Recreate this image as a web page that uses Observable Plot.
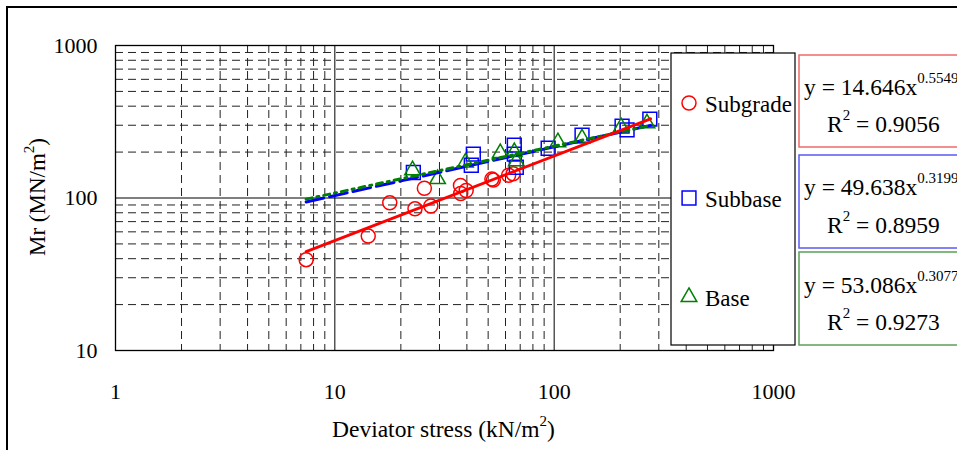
<!DOCTYPE html>
<html><head><meta charset="utf-8">
<script src="https://cdn.jsdelivr.net/npm/d3@7"></script>
<script src="https://cdn.jsdelivr.net/npm/@observablehq/plot@0.6"></script>
<style>
body{margin:0;background:#fff;}
#chart{position:relative;width:957px;height:450px;overflow:hidden;}
</style>
</head><body><div id="chart"></div>
<script>
// ---- data ----
const seriesNames = ["Subgrade", "Subbase", "Base"];
const subgradeX = [7.4, 14.2, 17.8, 23.2, 25.6, 27.4, 37.4, 37.5, 39.7, 52, 52.8, 62, 65];
const subgradeY = [39.4, 56.3, 93, 84.9, 115.8, 88.6, 121, 107, 112, 133, 131, 141, 144];
const subbaseX = [22.8, 41.9, 42.8, 65.8, 65.8, 67.2, 93.9, 134, 204, 215, 273];
const subbaseY = [147, 164, 194, 222, 194, 159, 212, 258, 296, 280, 329];
const baseX = [22.6, 29.4, 39.4, 56.8, 65.8, 67.2, 104, 134, 202, 265];
const baseY = [152, 133, 171, 197, 200, 174, 232, 246, 291, 309];
// trend line end points (power fits, straight on log-log axes)
const fitX = [7.4, 275];
const subgradeFitY = [44.5, 330.7];
const subbaseFitY = [94.2, 299.3];
const baseFitY = [98.3, 298.9];
const equations = [
  {coef: "y = 14.646x", exp: "0.5549", r2: "0.9056"},
  {coef: "y = 49.638x", exp: "0.3199", r2: "0.8959"},
  {coef: "y = 53.086x", exp: "0.3077", r2: "0.9273"}
];
const xTicks = [1, 10, 100, 1000];
const yTicks = [10, 100, 1000];
const xMajorGrid = [10, 100];
const yMajorGrid = [100];
const xMinorGrid = [2,3,4,5,6,7,8,9,20,30,40,50,60,70,80,90,200,300,400,500,600,700,800,900];
const yMinorGrid = [20,30,40,50,60,70,80,90,200,300,400,500,600,700,800,900];
const xTitle = "Deviator stress (kN/m";
const yTitle = "Mr (MN/m";

const zip = (xs, ys) => xs.map((x, i) => ({x, y: ys[i]}));
const subgrade = zip(subgradeX, subgradeY);
const subbase = zip(subbaseX, subbaseY);
const base = zip(baseX, baseY);
const subgradeFit = zip(fitX, subgradeFitY);
const subbaseFit = zip(fitX, subbaseFitY);
const baseFit = zip(fitX, baseFitY);

const FONT = "'Liberation Serif','Times New Roman',serif";
const RED = "#ff0000", BLUE = "#0000ff", GREEN = "#008000";
const dash = "8,5";

const plot = Plot.plot({
  width: 957, height: 450,
  marginLeft: 115, marginRight: 184, marginTop: 45, marginBottom: 100,
  style: {fontFamily: FONT, fontSize: "22px", color: "#000", background: "transparent"},
  x: {type: "log", domain: [1, 1000], ticks: xTicks, tickFormat: d => String(d), tickSize: 0, tickPadding: 33, label: null},
  y: {type: "log", domain: [10, 1000], ticks: yTicks, tickFormat: d => String(d), tickSize: 0, tickPadding: 18, label: null},
  marks: [
    Plot.ruleX(xMinorGrid, {stroke: "#222", strokeWidth: 1, strokeDasharray: dash}),
    Plot.ruleY(yMinorGrid, {stroke: "#222", strokeWidth: 1, strokeDasharray: dash}),
    Plot.ruleX(xMajorGrid, {stroke: "#000", strokeWidth: 1}),
    Plot.ruleY(yMajorGrid, {stroke: "#000", strokeWidth: 1}),
    Plot.frame({stroke: "#000", strokeWidth: 1.3}),
    Plot.dot(subgrade, {x: "x", y: "y", r: 7, symbol: "circle", stroke: RED, strokeWidth: 1.5, fill: "none"}),
    Plot.dot(subbase, {x: "x", y: "y", r: 7.8, symbol: "square", stroke: BLUE, strokeWidth: 1.5, fill: "none"}),
    Plot.dot(base, {x: "x", y: "y", r: 5.8, symbol: "triangle", stroke: GREEN, strokeWidth: 1.5, fill: "none"}),
    Plot.line(subbaseFit, {x: "x", y: "y", stroke: BLUE, strokeWidth: 3, strokeDasharray: "18,6"}),
    Plot.line(baseFit, {x: "x", y: "y", stroke: GREEN, strokeWidth: 3, strokeDasharray: "6,5,2,5"}),
    Plot.line(subgradeFit, {x: "x", y: "y", stroke: RED, strokeWidth: 3})
  ]
});
document.getElementById("chart").appendChild(plot);

const svg = d3.select(plot);
const txt = (sel, size = 23) => sel.style("font-family", FONT).style("font-size", size + "px").attr("fill", "#000").attr("text-anchor", "start");

// outer border of the figure
svg.append("rect").attr("x", 7).attr("y", 7).attr("width", 1000).attr("height", 500)
  .attr("fill", "none").attr("stroke", "#000").attr("stroke-width", 2);

// axis titles
const xt = txt(svg.append("text").attr("x", 332).attr("y", 437), 23.5);
xt.append("tspan").text(xTitle);
xt.append("tspan").attr("dy", -11).style("font-size", "15px").text("2");
xt.append("tspan").attr("dy", 11).text(")");

const yt = txt(svg.append("text").attr("transform", "translate(45,197) rotate(-90)"), 23).attr("text-anchor", "middle");
yt.append("tspan").text(yTitle);
yt.append("tspan").attr("dy", -11).style("font-size", "15px").text("2");
yt.append("tspan").attr("dy", 11).text(")");

// legend box
svg.append("rect").attr("x", 671).attr("y", 53).attr("width", 124).attr("height", 292)
  .attr("fill", "#fff").attr("stroke", "#000").attr("stroke-width", 1.2);
const legendRows = [
  {name: seriesNames[0], cy: 103, base: 112, sym: d3.symbolCircle, size: Math.PI * 49, color: RED},
  {name: seriesNames[1], cy: 198, base: 207, sym: d3.symbolSquare, size: Math.PI * 7.8 * 7.8, color: BLUE},
  {name: seriesNames[2], cy: 297, base: 306, sym: d3.symbolTriangle, size: Math.PI * 5.8 * 5.8, color: GREEN}
];
legendRows.forEach(r => {
  svg.append("path").attr("d", d3.symbol(r.sym, r.size)()).attr("transform", `translate(689,${r.cy})`)
    .attr("fill", "none").attr("stroke", r.color).attr("stroke-width", 1.5);
  txt(svg.append("text").attr("x", 705).attr("y", r.base), 23).text(r.name);
});

// equation boxes
const eqBoxes = [
  {y: 55, h: 92, color: "#f06a6a", b1: 95, b2: 132},
  {y: 155, h: 93, color: "#5a5af5", b1: 195, b2: 233},
  {y: 252, h: 93, color: "#5aa05a", b1: 293, b2: 330}
];
eqBoxes.forEach((b, i) => {
  svg.append("rect").attr("x", 799).attr("y", b.y).attr("width", 200).attr("height", b.h)
    .attr("fill", "#fff").attr("stroke", b.color).attr("stroke-width", 1.5);
  const e = equations[i];
  const t1 = txt(svg.append("text").attr("x", 804).attr("y", b.b1), 23.5);
  t1.append("tspan").text(e.coef);
  t1.append("tspan").attr("dy", -12).style("font-size", "15px").text(e.exp);
  const t2 = txt(svg.append("text").attr("x", 827).attr("y", b.b2), 23.5);
  t2.append("tspan").text("R");
  t2.append("tspan").attr("dy", -12).style("font-size", "15px").text("2");
  t2.append("tspan").attr("dy", 12).text(" = " + e.r2);
});
</script>
</body></html>
